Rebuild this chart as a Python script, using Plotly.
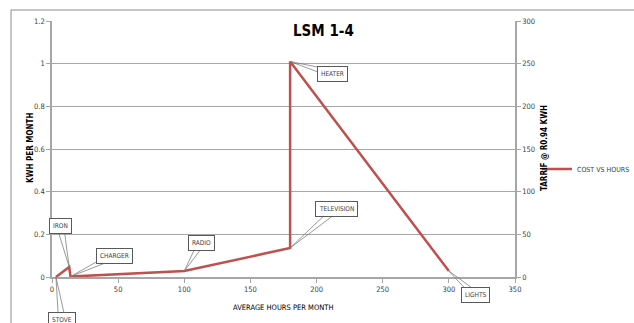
import math
import plotly.graph_objects as go

# Appliance usage: average hours per month vs kWh per month
appliances = ["STOVE", "IRON", "CHARGER", "RADIO", "TELEVISION", "HEATER", "LIGHTS"]
hours = [3, 13, 14, 100, 180, 180, 300]
kwh = [0.0, 0.047, 0.002, 0.028, 0.136, 1.01, 0.028]

# callout offsets (pixels) from each point to its label box
label_dx = [6, -9, 44, 17, 46, 42, 27]
label_dy = [43, -41, -21, -28, -39, 12, 24]

x_ticks = [0, 50, 100, 150, 200, 250, 300, 350]
y_ticks = [0, 0.2, 0.4, 0.6, 0.8, 1, 1.2]
y2_ticks = [0, 50, 100, 150, 200, 250, 300]

FONT = "DejaVu Sans Condensed, Liberation Sans, sans-serif"
RED = "#c0504d"
GRID = "#a6a6a6"
TXT = "#404040"

fig = go.Figure()
fig.add_trace(go.Scatter(
    x=hours, y=kwh, mode="lines", name="COST VS HOURS",
    line=dict(color=RED, width=2.5), yaxis="y",
))
# empty trace so the secondary (tariff) axis is drawn
fig.add_trace(go.Scatter(x=[], y=[], yaxis="y2", showlegend=False, hoverinfo="skip"))

label_font = dict(family=FONT, size=6.5, color=TXT)
for name, hx, ky, dx, dy in zip(appliances, hours, kwh, label_dx, label_dy):
    # wedge-shaped callout: two leader lines converging on the point,
    # running to the box centre and hidden underneath the label box
    n = math.hypot(dx, dy)
    px, py = -dy / n * 3.5, dx / n * 3.5
    for s in (1, -1):
        fig.add_annotation(
            x=hx, y=ky, xref="x", yref="y", text=" ",
            showarrow=True, arrowhead=0, arrowwidth=0.8, arrowcolor="#7f7f7f",
            ax=dx + s * px, ay=dy + s * py, width=1, height=1,
            bgcolor="rgba(0,0,0,0)", font=dict(family=FONT, size=1),
        )
    fig.add_annotation(
        x=hx, y=ky, xref="x", yref="y", text=name, showarrow=False,
        xshift=dx, yshift=-dy, bgcolor="white", bordercolor="#595959",
        borderwidth=1, borderpad=3, font=label_font,
    )

W, H = 634, 323
ml, mr, mt, mb = 52, 119, 21, 46
pw, ph = W - ml - mr, H - mt - mb

def px_x(p):
    return (p - ml) / pw

def px_y(p):
    return (H - mb - p) / ph

# outer chart frame
fig.add_shape(type="rect", xref="paper", yref="paper",
              x0=px_x(11), x1=px_x(640), y0=px_y(330), y1=px_y(10),
              line=dict(color="#8c8c8c", width=1), layer="below")

def text_at(txt, x, y, size, angle=0, color="#000000"):
    fig.add_annotation(text=txt, xref="paper", yref="paper",
                       x=px_x(x), y=px_y(y), xanchor="center", yanchor="middle",
                       textangle=angle, showarrow=False,
                       font=dict(family=FONT, size=size, color=color))

text_at("<b>LSM 1-4</b>", 323, 31, 15)
text_at("<b>KWH PER MONTH</b>", 30, 148, 8, -90)
text_at("<b>TARRIF @ R0.94 KWH</b>", 544, 148, 8, -90)
text_at("AVERAGE HOURS PER MONTH", 283, 307, 7.5)

axis_common = dict(showline=True, linecolor=GRID, linewidth=1.5,
                   ticks="outside", ticklen=4, tickcolor=GRID,
                   tickfont=dict(family=FONT, size=7.5, color=TXT), zeroline=False)

fig.update_layout(
    width=W, height=H,
    margin=dict(l=ml, r=mr, t=mt, b=mb, autoexpand=False),
    paper_bgcolor="white", plot_bgcolor="white",
    showlegend=True,
    legend=dict(x=px_x(537), y=px_y(169), xanchor="left", yanchor="middle",
                font=dict(family=FONT, size=7, color=TXT),
                bgcolor="rgba(0,0,0,0)", itemwidth=30),
    xaxis=dict(range=[0, 350], tickvals=x_ticks, showgrid=False, **axis_common),
    yaxis=dict(range=[0, 1.2], tickvals=y_ticks, ticktext=[f"{v:g}" for v in y_ticks],
               showgrid=True, gridcolor=GRID, gridwidth=1, **axis_common),
    yaxis2=dict(range=[0, 300], tickvals=y2_ticks, overlaying="y", side="right",
                showgrid=False, **axis_common),
)

fig.write_html("out.html")
